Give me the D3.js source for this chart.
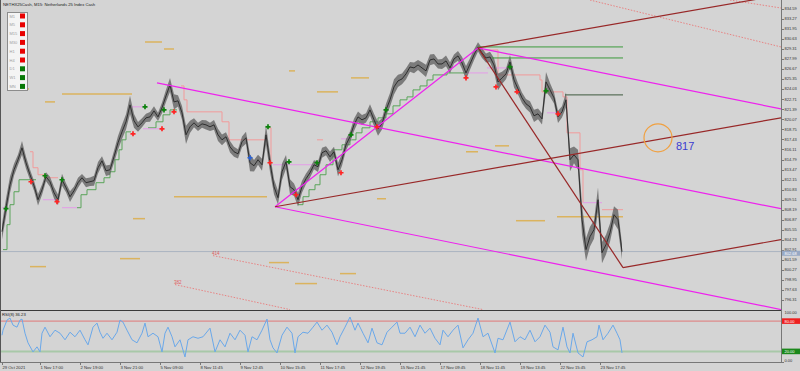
<!DOCTYPE html>
<html>
<head>
<meta charset="utf-8">
<script src="https://cdn.jsdelivr.net/npm/d3@7"></script>
<style>
  body { margin: 0; background: #d4d4d4; }
  svg { display: block; font-family: "Liberation Sans", Arial, sans-serif; }
</style>
</head>
<body>
<div id="chart"></div>
<script>
// closes of NETHX25Cash M15, one value every 4 time units
var closes = [805.30,808.45,811.47,813.44,814.76,816.33,814.36,812.79,811.34,809.50,
  810.82,812.52,811.87,810.42,809.50,812.13,811.08,809.90,810.68,811.74,
  812.39,811.74,811.87,812.00,813.71,814.62,813.31,813.44,815.15,816.99,
  818.43,819.75,821.98,819.88,819.09,819.62,820.27,820.40,821.19,820.40,
  821.59,823.16,824.61,822.37,822.51,820.93,818.04,819.09,819.62,819.09,
  819.48,819.35,819.09,819.35,818.04,817.38,817.78,816.46,815.81,815.54,
  817.12,817.65,814.36,813.97,814.76,814.10,818.04,814.36,811.21,809.77,
  813.18,814.49,811.21,810.82,809.50,811.21,812.26,813.05,814.10,813.84,
  815.68,815.94,815.15,815.81,813.44,814.76,816.73,817.78,819.35,820.40,
  820.01,820.27,821.32,820.01,818.83,819.48,821.32,822.64,824.34,825.13,
  825.39,826.05,826.97,826.84,827.23,826.84,826.45,827.89,828.02,827.36,
  827.36,827.76,826.84,828.02,828.42,827.50,826.18,827.36,828.55,829.60,
  828.81,828.15,828.28,827.23,825.00,825.53,826.05,827.63,825.26,824.08,
  822.90,822.11,821.72,820.54,820.80,820.14,825.00,823.95,822.90,820.40,
  821.06,822.64,814.76,815.41,814.76,806.88,802.94,804.64,805.56,809.50,
  802.54,803.59,805.17,807.53,806.88,802.67];
// high-low range of each bar
var barRange = [2.0,2.4,2.2,1.6,1.4,1.8,1.6,1.4,1.3,1.5,
  1.4,1.2,1.3,1.5,1.4,1.6,1.2,1.4,1.1,1.3,
  1.0,1.2,1.1,1.3,1.5,1.2,1.4,1.3,1.6,1.8,
  1.9,2.0,2.4,1.8,1.3,1.2,1.1,1.3,1.2,1.1,
  1.4,1.6,1.8,2.0,1.5,1.8,2.4,1.6,1.2,1.1,
  1.0,1.2,1.1,1.3,1.6,1.4,1.2,1.5,1.3,1.2,
  1.4,1.6,2.2,1.5,1.3,1.6,2.6,2.4,2.0,1.8,
  2.2,1.8,2.0,1.6,1.8,1.6,1.4,1.3,1.2,1.4,
  1.3,1.2,1.4,1.3,1.8,1.6,1.5,1.4,1.6,1.4,
  1.3,1.2,1.5,1.6,1.8,1.5,1.6,1.8,2.0,1.6,
  1.4,1.5,1.3,1.4,1.3,1.5,1.6,1.4,1.3,1.2,
  1.3,1.4,1.5,1.2,1.3,1.6,1.8,1.5,1.4,1.2,
  1.3,1.2,1.4,1.8,2.2,1.6,1.4,1.8,2.0,1.5,
  1.4,1.3,1.5,1.6,1.4,1.5,2.6,1.8,1.5,1.6,
  1.5,2.0,3.0,2.2,2.6,4.0,3.0,2.6,2.4,3.2,
  2.8,2.6,2.4,2.2,2.6,2.0];
var barStep = 4;
var lastPrice = 802.68;

// RSI(8): time and value
var rsiT = [0,1,5,8,11,15,18,20,23,26,31,35,38,40,43,48,53,58,63,68,
  73,78,83,86,91,95,98,101,105,110,115,118,121,125,130,135,140,143,146,151,
  156,160,163,166,170,173,178,183,186,191,196,201,208,213,218,223,228,233,238,243,
  246,250,255,260,265,268,271,275,280,285,290,293,296,301,306,311,315,320,325,330,
  335,338,343,348,353,356,361,366,370,375,380,385,390,395,398,403,408,413,418,423,
  428,433,438,441,446,451,456,461,466,471,476,481,486,493,496,501,508,513,518,523,
  528,533,538,543,548,551,556,561,565,568,571,576,581,585,590,595,597,601,606,611,
  615,618,620];
var rsiV = [52,62,82,86,72,68,82,84,56,37,19,29,19,56,68,49,62,56,43,58,
  49,62,43,33,68,76,58,46,56,43,58,82,78,62,43,37,56,76,49,56,
  49,19,56,68,49,29,43,9,43,49,46,49,66,19,43,29,56,43,62,52,
  19,49,43,62,84,43,27,17,52,68,56,17,49,58,56,68,78,62,72,58,
  33,49,68,88,62,76,56,37,66,37,33,58,68,78,56,56,68,49,72,56,
  66,46,33,62,49,62,72,27,43,56,86,49,56,17,46,43,78,39,49,43,
  62,39,49,72,58,29,23,68,29,17,56,17,9,39,43,49,72,43,56,72,
  56,43,17];
var rsiLevels = [80, 20];

var priceTicks = [834.59,833.27,831.95,830.63,829.31,827.99,826.67,825.35,824.03,822.71,
  821.39,820.07,818.75,817.43,816.11,814.79,813.47,812.15,810.83,809.51,
  808.19,806.87,805.55,804.23,802.91,801.59,800.27,798.95,797.63,796.31];
var timeTicks = [0,38,78,118,158,198,238,278,318,358,398,438,478,518,558,598];
var timeLabels = ["29 Oct 2021","1 Nov 17:00","2 Nov 19:00","3 Nov 21:00","5 Nov 09:00",
  "8 Nov 11:45","9 Nov 12:45","10 Nov 15:45","11 Nov 17:45","12 Nov 19:45",
  "15 Nov 21:45","17 Nov 09:45","18 Nov 11:45","19 Nov 13:45","22 Nov 15:45","23 Nov 17:45"];

var tfNames = ["M1","M5","M15","M30","H1","H4","D1","W1","MN"];
var tfUp = [false,false,false,false,false,false,true,true,true];

// channel lines [time, price]
var magentaLines = [
  [[155,824.87],[779,808.32]],
  [[476,829.47],[779,821.45]],
  [[273,808.58],[779,795.05]],
  [[273,808.58],[476,829.47]]
];
var brownLines = [
  [[273,808.58],[779,820.27]],
  [[476,829.47],[779,836.43]],
  [[476,829.47],[621,800.57]],
  [[621,800.57],[779,804.25]]
];
var dottedLines = [
  [[211,802.15],[481,795.05]],
  [[173,798.34],[288,795.05]],
  [[588,835.77],[779,829.60]],
  [[728,835.77],[779,834.72]]
];
var dottedNames = ["414","382"];

// short support / resistance levels [t1, t2, price]
var levels = [
  [143,160,830.25],[162,172,829.33],[60,130,823.42],[43,53,822.37],[5,27,824.08],
  [172,265,809.90],[131,143,807.01],[287,293,826.45],[349,367,825.53],[315,336,823.69],
  [493,507,816.59],[464,476,815.81],[375,384,809.63],[514,543,806.74],[555,621,807.27],
  [267,287,801.23],[293,315,798.47],[338,354,799.78],[28,44,800.70],[118,138,801.75]
];
var greenLevels = [[476,621,829.60],[490,621,828.15]];
var darkLevels = [[563,621,823.29]];

// trailing stop steps
var greenTrails = [
  [[1,802.94],[5,806.22],[8,808.85],[12,810.55],[17,812.13],[34,812.13]],
  [[75,808.45],[79,810.16],[85,810.82],[94,811.74],[102,812.39],[108,813.18],[113,814.76],
   [117,816.07],[120,817.38],[124,818.43],[129,818.43]],
  [[146,818.96],[154,819.75],[161,820.67],[168,821.32],[175,821.32]],
  [[296,808.85],[301,809.90],[307,810.82],[313,811.47],[318,812.79],[324,814.10],[331,816.07],
   [340,816.73],[348,817.38],[354,818.30],[360,818.96],[368,819.75],[376,820.27],[384,820.80],
   [391,821.85],[398,822.64],[405,823.03],[411,823.95],[418,824.47],[425,825.26],[431,825.92],
   [445,826.18],[464,826.18]]
];
var pinkTrails = [
  [[28,815.81],[31,813.71],[36,812.79],[42,812.39],[56,812.39]],
  [[179,824.47],[182,822.64],[185,821.06],[216,821.06],[220,819.75],[227,817.38],[264,817.38]],
  [[266,818.96],[269,814.36],[271,814.36]],
  [[315,817.38],[321,817.38]],
  [[480,829.20],[496,825.92],[538,825.26],[540,823.69],[558,823.69],[561,823.03],[565,818.30],
   [576,818.30],[578,813.44],[581,809.11]],
  [[600,808.19],[621,808.19]]
];
var lavenderTrails = [
  [[0,808.45],[6,808.45]],
  [[41,809.50],[55,809.50]],
  [[60,808.45],[75,808.45]],
  [[130,821.72],[141,821.72]],
  [[141,818.83],[160,818.83]],
  [[271,814.10],[315,814.10]],
  [[339,817.51],[350,817.51]],
  [[464,826.18],[486,826.18]],
  [[485,826.84],[508,826.84]],
  [[545,820.93],[558,820.93]],
  [[581,809.11],[600,809.11]]
];

// fractal arrows [t, price]
var redMarks = [[29,811.87],[55,809.24],[131,818.17],[160,818.83],[172,821.06],[268,814.36],
  [294,810.16],[339,813.05],[375,819.09],[464,825.53],[494,824.34],[515,823.69],[556,820.80]];
var greenMarks = [[4,808.32],[43,812.65],[60,812.13],[143,821.72],[162,821.32],[266,819.09],
  [287,814.49],[315,814.36],[349,818.04],[384,821.32],[508,826.97],[544,823.82]];
var blueMarks = [[248,815.02]];

var circleMark = {t: 656, price: 817.65, label: "817"};

var W = 800, H = 371;
var axisX = 781, mainBottom = 310, rsiTop = 311, rsiBottom = 362;

var x = d3.scaleLinear().domain([0, 779]).range([2, 781]);
var y = d3.scaleLinear().domain([796.31, 834.59]).range([300, 9]);
var yR = d3.scaleLinear().domain([0, 100]).range([361.5, 311]);

var svg = d3.select("#chart").append("svg").attr("width", W).attr("height", H);
svg.append("rect").attr("width", W).attr("height", H).attr("fill", "#d4d4d4");

var defs = svg.append("defs");
defs.append("clipPath").attr("id", "clipMain").append("rect")
  .attr("x", 0).attr("y", 0).attr("width", axisX).attr("height", mainBottom);
defs.append("clipPath").attr("id", "clipRsi").append("rect")
  .attr("x", 0).attr("y", rsiTop).attr("width", axisX).attr("height", rsiBottom - rsiTop);

var main = svg.append("g").attr("clip-path", "url(#clipMain)");

var pline = d3.line().x(function(d) { return x(d[0]); }).y(function(d) { return y(d[1]); });
var stepLine = d3.line().x(function(d) { return x(d[0]); }).y(function(d) { return y(d[1]); })
  .curve(d3.curveStepAfter);

// current price line
main.append("line").attr("x1", 0).attr("x2", axisX)
  .attr("y1", y(lastPrice)).attr("y2", y(lastPrice))
  .attr("stroke", "#aab4c0").attr("stroke-width", 1);

// levels
main.selectAll(".lvl").data(levels).enter().append("line")
  .attr("x1", function(d) { return x(d[0]); }).attr("x2", function(d) { return x(d[1]); })
  .attr("y1", function(d) { return y(d[2]); }).attr("y2", function(d) { return y(d[2]); })
  .attr("stroke", "#dcb052").attr("stroke-width", 1.5).attr("opacity", 0.9);

// dotted projection lines
main.selectAll(".dot").data(dottedLines).enter().append("path")
  .attr("d", pline).attr("fill", "none").attr("stroke", "#e88383")
  .attr("stroke-width", 1).attr("stroke-dasharray", "1.5,1.5");
dottedNames.forEach(function(n, i) {
  main.append("text").attr("x", x(dottedLines[i][0][0]) - 1).attr("y", y(dottedLines[i][0][1]) - 1)
    .attr("font-size", 4.5).attr("fill", "#e06060").text(n);
});

// trailing steps
function drawTrails(data, color) {
  main.append("g").selectAll("path").data(data).enter().append("path")
    .attr("d", stepLine).attr("fill", "none").attr("stroke", color).attr("stroke-width", 1);
}
drawTrails(greenTrails, "#5aa45a");
drawTrails(pinkTrails, "#f29a9a");
drawTrails(lavenderTrails, "#e49ce8");

// price bars: high-low band plus close line
var priceData = closes.map(function(c, i) { return {t: i * barStep, c: c, r: barRange[i]}; });
var band = d3.area().x(function(d) { return x(d.t); })
  .y0(function(d) { return y(d.c - d.r / 2); }).y1(function(d) { return y(d.c + d.r / 2); });
main.append("path").attr("d", band(priceData)).attr("fill", "#5e5e5e").attr("opacity", 0.75);
main.append("path").attr("d", d3.line().x(function(d) { return x(d.t); }).y(function(d) { return y(d.c); })(priceData))
  .attr("fill", "none").attr("stroke", "#262626").attr("stroke-width", 0.9);

// horizontal green lines
main.selectAll(".gl").data(greenLevels).enter().append("line")
  .attr("x1", function(d) { return x(d[0]); }).attr("x2", function(d) { return x(d[1]); })
  .attr("y1", function(d) { return y(d[2]); }).attr("y2", function(d) { return y(d[2]); })
  .attr("stroke", "#3c9a3c").attr("stroke-width", 1);
main.selectAll(".dl").data(darkLevels).enter().append("line")
  .attr("x1", function(d) { return x(d[0]); }).attr("x2", function(d) { return x(d[1]); })
  .attr("y1", function(d) { return y(d[2]); }).attr("y2", function(d) { return y(d[2]); })
  .attr("stroke", "#3d5a3d").attr("stroke-width", 1);

// channels
main.selectAll(".mg").data(magentaLines).enter().append("path")
  .attr("d", pline).attr("fill", "none").attr("stroke", "#ee22ee").attr("stroke-width", 1.2);
main.selectAll(".br").data(brownLines).enter().append("path")
  .attr("d", pline).attr("fill", "none").attr("stroke", "#982828").attr("stroke-width", 1.2);

// markers
var cross = d3.symbol().type(d3.symbolCross).size(14);
function drawMarks(data, color) {
  main.append("g").selectAll("path").data(data).enter().append("path")
    .attr("d", cross)
    .attr("transform", function(d) { return "translate(" + x(d[0]) + "," + y(d[1]) + ")"; })
    .attr("fill", color);
}
drawMarks(redMarks, "#ff2424");
drawMarks(greenMarks, "#0b820b");
drawMarks(blueMarks, "#2a62d6");

// circle annotation
var cx = x(circleMark.t), cy = y(circleMark.price);
main.append("circle").attr("cx", cx).attr("cy", cy).attr("r", 14)
  .attr("fill", "none").attr("stroke", "#f0a040").attr("stroke-width", 1.2);
main.append("text").attr("x", cx + 18).attr("y", cy + 12)
  .attr("font-size", 11).attr("fill", "#3b3bd0").text(circleMark.label);

// header
svg.append("text").attr("x", 3).attr("y", 5.5).attr("font-size", 4.2).attr("fill", "#222")
  .text("NETHX25Cash, M15:  Netherlands 25 Index Cash");

// timeframe box
var tf = svg.append("g");
tf.append("rect").attr("x", 7.5).attr("y", 12.5).attr("width", 20).attr("height", 78)
  .attr("fill", "#f4f4f4").attr("stroke", "#8c8c8c").attr("stroke-width", 1);
tfNames.forEach(function(n, i) {
  var ty = 16 + i * 8.8;
  tf.append("text").attr("x", 9.5).attr("y", ty + 1.5).attr("font-size", 4)
    .attr("fill", "#a0a0a0").text(n);
  tf.append("rect").attr("x", 20).attr("y", ty - 2.5).attr("width", 5).attr("height", 5)
    .attr("fill", tfUp[i] ? "#067806" : "#e80000");
});

// RSI
var rsi = svg.append("g").attr("clip-path", "url(#clipRsi)");
rsi.append("line").attr("x1", 0).attr("x2", axisX)
  .attr("y1", yR(rsiLevels[0])).attr("y2", yR(rsiLevels[0]))
  .attr("stroke", "#e07878").attr("stroke-width", 1);
rsi.append("line").attr("x1", 0).attr("x2", axisX)
  .attr("y1", yR(rsiLevels[1])).attr("y2", yR(rsiLevels[1]))
  .attr("stroke", "#a8c8a8").attr("stroke-width", 2);
var rsiLine = d3.line().x(function(d) { return x(d); }).y(function(d, i) { return yR(rsiV[i]); });
rsi.append("path").attr("d", rsiLine(rsiT)).attr("fill", "none")
  .attr("stroke", "#6aa8ea").attr("stroke-width", 1);
svg.append("text").attr("x", 2).attr("y", 316).attr("font-size", 4.2).attr("fill", "#222")
  .text("RSI(8) 36.23");

// frames
svg.append("line").attr("x1", 0).attr("x2", axisX).attr("y1", mainBottom + 0.5).attr("y2", mainBottom + 0.5)
  .attr("stroke", "#3a3a3a").attr("stroke-width", 1);
svg.append("line").attr("x1", 0).attr("x2", axisX + 3).attr("y1", rsiBottom + 0.5).attr("y2", rsiBottom + 0.5)
  .attr("stroke", "#777").attr("stroke-width", 1);
svg.append("line").attr("x1", axisX + 0.5).attr("x2", axisX + 0.5).attr("y1", 0).attr("y2", rsiBottom)
  .attr("stroke", "#777").attr("stroke-width", 1);
svg.append("line").attr("x1", 0.5).attr("x2", 0.5).attr("y1", 0).attr("y2", rsiBottom)
  .attr("stroke", "#555").attr("stroke-width", 1);

// price axis
var pAxis = svg.append("g");
priceTicks.forEach(function(v) {
  pAxis.append("line").attr("x1", axisX).attr("x2", axisX + 3)
    .attr("y1", Math.round(y(v)) + 0.5).attr("y2", Math.round(y(v)) + 0.5).attr("stroke", "#777");
  pAxis.append("text").attr("x", axisX + 3.5).attr("y", y(v) + 1.2).attr("font-size", 4)
    .attr("fill", "#333").text(v.toFixed(2));
});
// last price tag, nudged below the 802.91 tick
var tagY = y(lastPrice) + 1.6;
pAxis.append("rect").attr("x", axisX + 1).attr("y", tagY - 2.4).attr("width", 18).attr("height", 5)
  .attr("fill", "#97a8c4");
pAxis.append("text").attr("x", axisX + 3.5).attr("y", tagY + 1.4).attr("font-size", 4)
  .attr("fill", "#fff").text(lastPrice.toFixed(2));

// rsi axis
[100, 0].forEach(function(v) {
  pAxis.append("text").attr("x", axisX + 3.5).attr("y", yR(v) + (v === 100 ? 2.5 : 0.5)).attr("font-size", 4)
    .attr("fill", "#333").text(v.toFixed(2));
});
rsiLevels.forEach(function(v, i) {
  pAxis.append("rect").attr("x", axisX + 1).attr("y", yR(v) - 2.8).attr("width", 18).attr("height", 5.6)
    .attr("fill", i === 0 ? "#ee2020" : "#1b881b");
  pAxis.append("text").attr("x", axisX + 3.5).attr("y", yR(v) + 1.5).attr("font-size", 4)
    .attr("fill", "#fff").text(v.toFixed(2));
});

// time axis
var tAxis = svg.append("g");
timeTicks.forEach(function(t, i) {
  tAxis.append("line").attr("x1", x(t) + 0.5).attr("x2", x(t) + 0.5)
    .attr("y1", rsiBottom).attr("y2", rsiBottom + 3).attr("stroke", "#777");
  tAxis.append("text").attr("x", x(t) + 0.5).attr("y", 368.5).attr("font-size", 4.2)
    .attr("fill", "#333").text(timeLabels[i]);
});
</script>
</body>
</html>
